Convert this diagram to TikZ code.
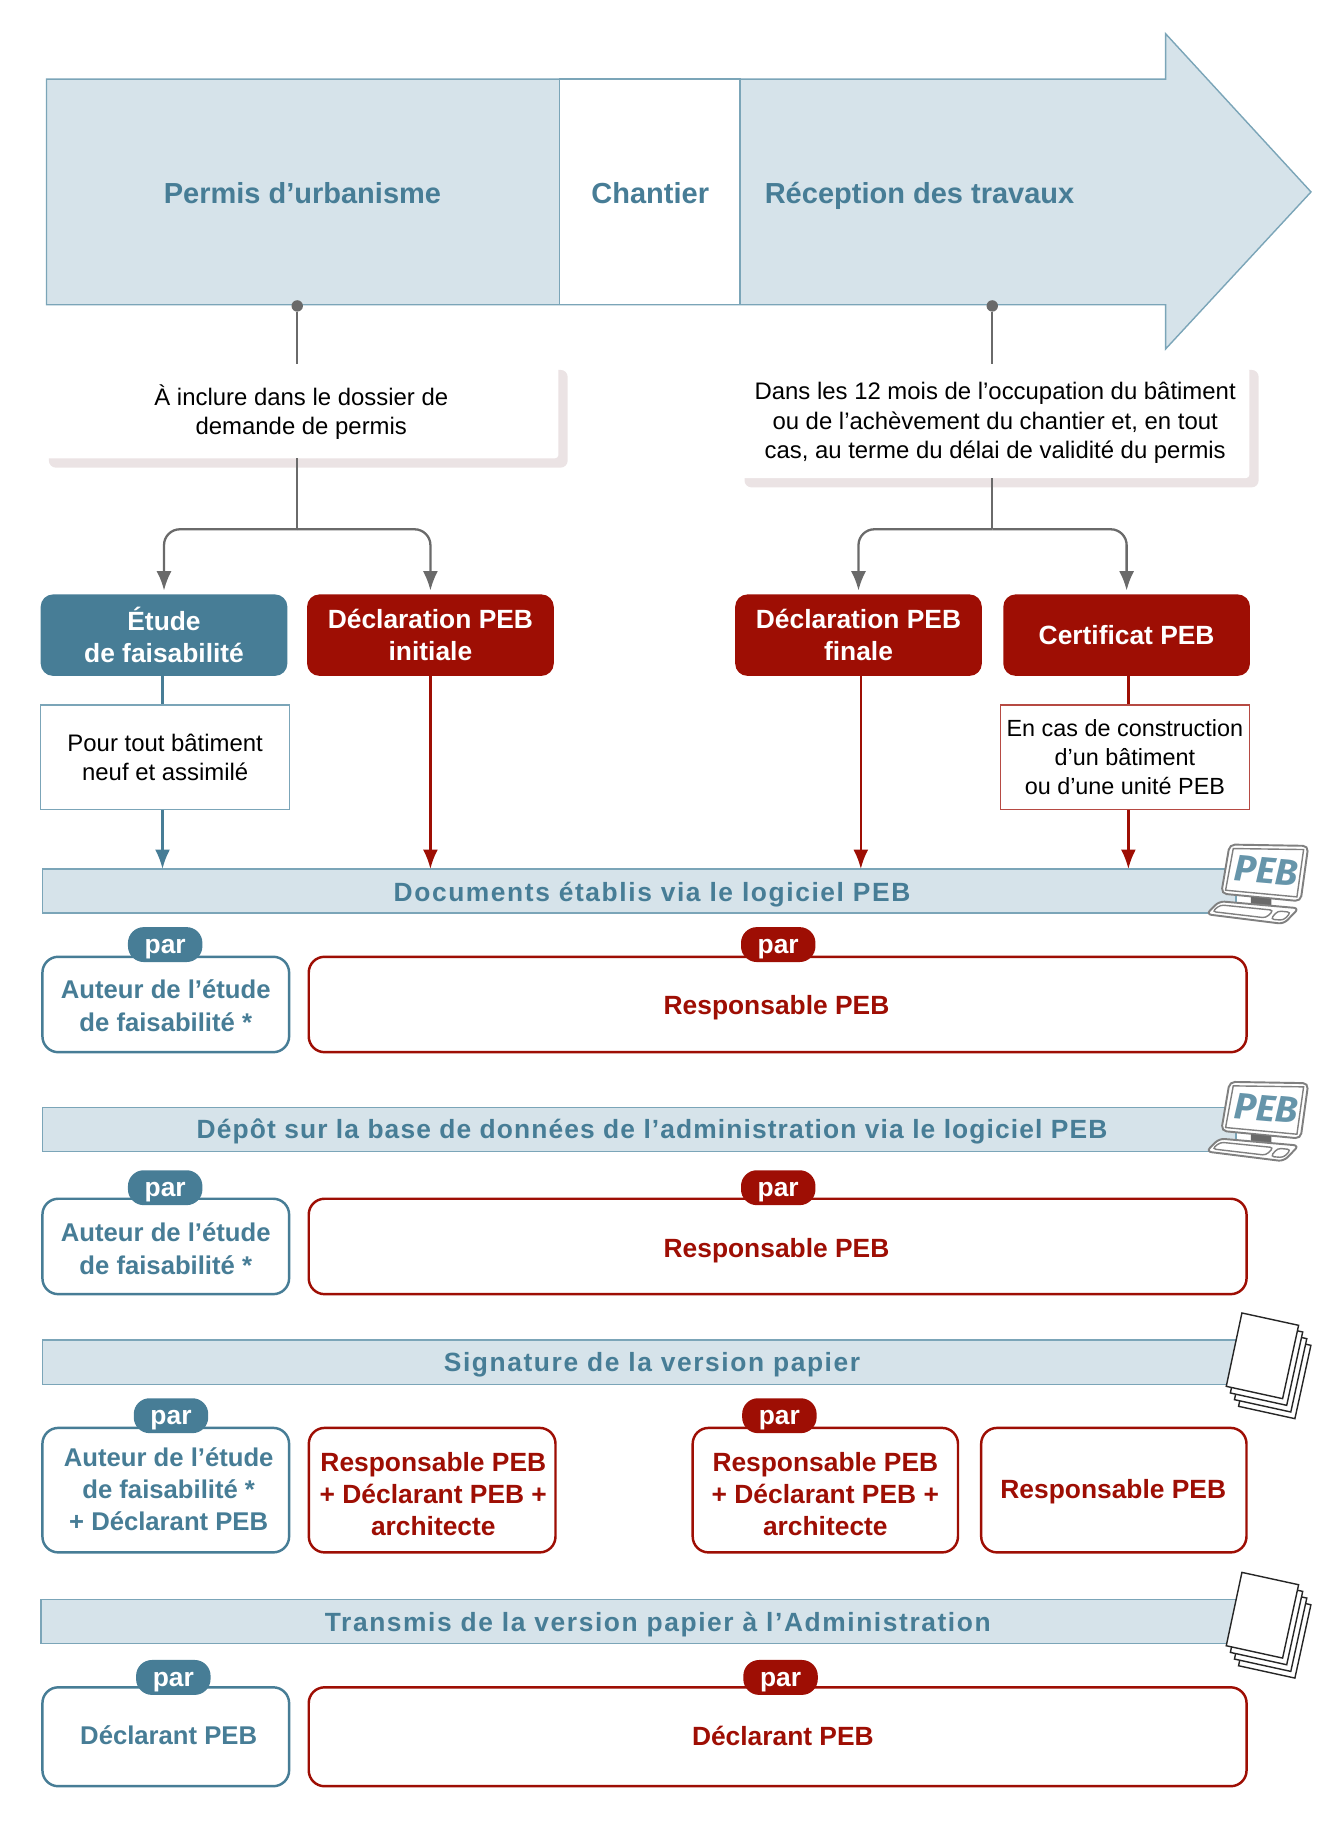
\documentclass[tikz,border=0pt]{standalone}
\usepackage{fontspec}
\setmainfont{Liberation Sans}
\newfontfamily\bandfont[LetterSpace=6]{Liberation Sans}
\newfontfamily\bandtight[LetterSpace=4.2]{Liberation Sans}
\newfontfamily\pebfont{Fira Sans}
\usetikzlibrary{arrows.meta,positioning}
\definecolor{peblue}{HTML}{477D96}
\definecolor{pebline}{HTML}{7BA5B8}
\definecolor{pebfill}{HTML}{D6E3EA}
\definecolor{pebred}{HTML}{9E0E04}
\definecolor{pebgrey}{HTML}{6A6A6A}
\definecolor{pebshadow}{HTML}{EBE3E4}
\def\pxu{0.6618pt}
\tikzset{>={Latex[length=11pt,width=8.5pt]},
    sz/.style 2 args={minimum width=#1*\pxu, minimum height=#2*\pxu, inner sep=0pt},
    normal/.style={font=\fontsize{13.6}{16.6}\selectfont, align=center, text=black},
    strong/.style={font=\fontsize{15}{18.3}\selectfont\bfseries, align=center},
    strongblue/.style={font=\fontsize{14.6}{18.3}\selectfont\bfseries, align=center, text=peblue},
    titre/.style={font=\fontsize{16.5}{20}\selectfont\bfseries, text=peblue},
    bandtxt/.style={font=\fontsize{15}{18}\bandfont\bfseries, text=peblue},
    bandbox/.style={draw=pebline, fill=pebfill, line width=0.8pt},
    solidblue/.style={strong, fill=peblue, text=white, rounded corners=7pt},
    solidred/.style={strong, fill=pebred, text=white, rounded corners=7pt},
    pillblue/.style={solidblue, rounded corners=9pt, text height=9.8pt, text depth=0pt},
    pillred/.style={solidred, rounded corners=9pt, text height=9.8pt, text depth=0pt},
    boxblue/.style={strong, draw=peblue, fill=white, text=peblue, line width=1.4pt, rounded corners=9pt},
    boxred/.style={strong, draw=pebred, fill=white, text=pebred, line width=1.4pt, rounded corners=9pt},
    noteblue/.style={normal, draw=pebline, fill=white, line width=0.8pt},
    notered/.style={normal, draw=pebred!75!white, fill=white, line width=0.8pt},
    card/.style={normal, fill=white, rounded corners=2pt},
    greyline/.style={draw=pebgrey, line width=1.3pt},
    blueline/.style={draw=peblue, line width=1.3pt},
    redline/.style={draw=pebred, line width=1.3pt},
    dotgrey/.style={circle, fill=pebgrey, inner sep=0pt, minimum size=6.5pt},
    computer/.pic={
        \draw[draw=pebgrey!85!white, fill=white, line width=1.1pt, rounded corners=3pt] (388,193) -- (624,197) -- (601,363) -- (363,340) -- cycle;
        \draw[draw=pebgrey!85!white, line width=0.8pt] (399,205) -- (610,208) -- (590,350) -- (376,330) -- cycle;
        \fill[pebgrey] (452,350) -- (513,356) -- (513,378) -- (452,372) -- cycle;
        \draw[draw=pebgrey!85!white, fill=white, line width=1.1pt, rounded corners=3pt] (357,363) -- (596,384) -- (550,431) -- (318,402) -- cycle;
        \draw[draw=pebgrey!85!white, line width=0.8pt, rounded corners=2pt] (360,374) -- (520,390) -- (497,413) -- (336,394) -- cycle;
        \draw[draw=pebgrey!85!white, line width=0.8pt, rounded corners=2pt] (532,392) -- (572,396) -- (550,420) -- (511,417) -- cycle;
        \node[font=\fontsize{21}{21}\pebfont\bfseries\itshape, text=pebline!60!peblue, rotate=-5, inner sep=0pt] (pebmark) at (497,272) {PEB};
    },
    papers/.pic={
        \foreach \k in {3,2,1,0}
            \draw[draw=black!85, fill=white, line width=0.8pt, shift={(12.3*\k,20*\k)}] (425,98) -- (595,135) -- (547,355) -- (378,318) -- cycle;
    }
}

\begin{document}
\begin{tikzpicture}[x=0.02326cm, y=-0.02326cm]
    \useasboundingbox (0,0) rectangle (1153,1568);

    \draw[bandbox] (40,68) -- (1002,68) -- (1002,29) -- (1127,165) -- (1002,300) -- (1002,262) -- (40,262) -- cycle;
    \draw[draw=pebline, fill=white, line width=0.8pt] (481,68) rectangle (636,262);
    \node[titre] (permis) at (260,166) {Permis d’urbanisme};
    \node[titre] (chantier) at (559,166) {Chantier};
    \node[titre] (reception) at (790.5,168) {Réception des travaux};

    \fill[pebshadow, rounded corners=4pt] (42,318) rectangle (488,402);
    \fill[pebshadow, rounded corners=4pt] (640,318) rectangle (1082,419);
    \node[card, sz={442}{80}] (cardperm) at (259,354) {À inclure dans le dossier de\\demande de permis};
    \node[card, sz={437}{95}] (cardrec) at (855.5,363.5) {Dans les 12 mois de l’occupation du bâtiment\\ou de l’achèvement du chantier et, en tout\\cas, au terme du délai de validité du permis};

    \node[dotgrey] (dotperm) at (255.5,263) {};
    \node[dotgrey] (dotrec) at (853,263) {};
    \coordinate (endperm) at (255.5,313);
    \coordinate (endrec) at (853,313);
    \coordinate (startperm) at (255.5,394);
    \coordinate (startrec) at (853,411);
    \coordinate (joinperm) at (255.5,455);
    \coordinate (joinrec) at (853,455);

    \node[solidblue, sz={212}{70}] (etude) at (141,546) {Étude\\de faisabilité};
    \node[solidred, sz={212}{70}] (declinit) at (370,546) {Déclaration PEB\\initiale};
    \node[solidred, sz={212}{70}] (declfin) at (738,546) {Déclaration PEB\\finale\hspace{4pt}};
    \node[solidred, sz={212}{70}] (certif) at (968.5,546) {Certificat PEB};
    \node[noteblue, sz={214}{90}] (notetude) at (142,651) {Pour tout bâtiment\\neuf et assimilé};
    \node[notered, sz={214}{90}, font=\fontsize{13.3}{16.6}\selectfont] (notecert) at (967,651) {En cas de construction\\d’un bâtiment\\ou d’une unité PEB};

    \draw[greyline] (dotperm) -- (endperm);
    \draw[greyline] (dotrec) -- (endrec);
    \draw[greyline] (startperm) -- (joinperm);
    \draw[greyline] (startrec) -- (joinrec);
    \draw[greyline, ->, rounded corners=9pt, shorten >=2pt] (joinperm) -| (etude.north);
    \draw[greyline, ->, rounded corners=9pt, shorten >=2pt] (joinperm) -| (declinit.north);
    \draw[greyline, ->, rounded corners=9pt, shorten >=2pt] (joinrec) -| (declfin.north);
    \draw[greyline, ->, rounded corners=9pt, shorten >=2pt] (joinrec) -| (certif.north);

    \node[bandbox, sz={1026}{38}] (bandone) at (549.5,766) {};
    \node[bandbox, sz={1026}{38}] (bandtwo) at (549.5,971) {};
    \node[bandbox, sz={1026}{38}] (bandthree) at (549.5,1171) {};
    \node[bandbox, sz={1028}{38}] (bandfour) at (549.5,1394) {};
    \node[bandtxt] (bandonetxt) at (560.5,769) {Documents établis via le logiciel PEB};
    \node[bandtxt, font=\fontsize{15}{18}\bandtight\bfseries] (bandtwotxt) at (560.5,973) {Dépôt sur la base de données de l’administration via le logiciel PEB};
    \node[bandtxt] (bandthreetxt) at (560.5,1173.5) {Signature de la version papier};
    \node[bandtxt] (bandfourtxt) at (565.5,1396.5) {Transmis de la version papier à l’Administration};

    \coordinate (hitetude) at (139.7,747);
    \coordinate (hitinit) at (370,747);
    \coordinate (hitfin) at (740,747);
    \coordinate (hitcert) at (970,747);
    \draw[blueline] (etude.south -| hitetude) -- (notetude.north -| hitetude);
    \draw[blueline, ->] (notetude.south -| hitetude) -- (hitetude);
    \draw[redline, ->] (declinit.south) -- (hitinit);
    \draw[redline, ->] (declfin.south -| hitfin) -- (hitfin);
    \draw[redline] (certif.south -| hitcert) -- (notecert.north -| hitcert);
    \draw[redline, ->] (notecert.south -| hitcert) -- (hitcert);

    \pic[scale=0.2866] at (945.8,670.7) {computer};
    \pic[scale=0.2866] at (945.8,874.7) {computer};
    \pic[scale=0.2866] at (945.8,1100.6) {papers};
    \pic[scale=0.2866] at (945.8,1323.6) {papers};

    \node[boxblue, sz={212}{82}] (autone) at (142.5,863.5) {};
    \node[boxred, sz={806}{82}] (respone) at (668.5,863.5) {};
    \node[strongblue] (autonetxt) at (142.5,864.5) {Auteur de l’étude\\de faisabilité *};
    \node[strong, text=pebred] (responetxt) at (667.5,866.5) {Responsable PEB};
    \node[pillblue, sz={64}{30}] (parone) at (142,812) {par};
    \node[pillred, sz={64}{30}] (partwo) at (669,812) {par};

    \node[boxblue, sz={212}{82}] (auttwo) at (142.5,1071.5) {};
    \node[boxred, sz={806}{82}] (resptwo) at (668.5,1071.5) {};
    \node[strongblue] (auttwotxt) at (142.5,1073.5) {Auteur de l’étude\\de faisabilité *};
    \node[strong, text=pebred] (resptwotxt) at (667.5,1075.5) {Responsable PEB};
    \node[pillblue, sz={64}{30}] (parthree) at (142,1021) {par};
    \node[pillred, sz={64}{30}] (parfour) at (669,1021) {par};

    \node[boxblue, sz={212}{107}] (autthree) at (142.5,1281) {};
    \node[boxred, sz={212}{107}] (respthree) at (371.5,1281) {};
    \node[boxred, sz={228}{107}] (respfour) at (709.5,1281) {};
    \node[boxred, sz={228}{107}] (respfive) at (957.5,1281) {};
    \node[strongblue] (autthreetxt) at (145,1280) {Auteur de l’étude\\de faisabilité *\\+ Déclarant PEB};
    \node[strong, text=pebred] (respthreetxt) at (372.5,1284.5) {Responsable PEB\\+ Déclarant PEB +\\architecte};
    \node[strong, text=pebred] (respfourtxt) at (709.5,1284.5) {Responsable PEB\\+ Déclarant PEB +\\architecte};
    \node[strong, text=pebred] (respfivetxt) at (957,1282.5) {Responsable PEB};
    \node[pillblue, sz={64}{30}] (parfive) at (147,1217) {par};
    \node[pillred, sz={64}{30}] (parsix) at (670,1217) {par};

    \node[boxblue, sz={212}{85}] (declone) at (142.5,1493) {};
    \node[boxred, sz={806}{85}] (decltwo) at (668.5,1493) {};
    \node[strongblue] (declonetxt) at (145,1492) {Déclarant PEB};
    \node[strong, text=pebred] (decltwotxt) at (673,1492) {Déclarant PEB};
    \node[pillblue, sz={64}{30}] (parseven) at (149,1442) {par};
    \node[pillred, sz={64}{30}] (pareight) at (671,1442) {par};
\end{tikzpicture}
\end{document}
